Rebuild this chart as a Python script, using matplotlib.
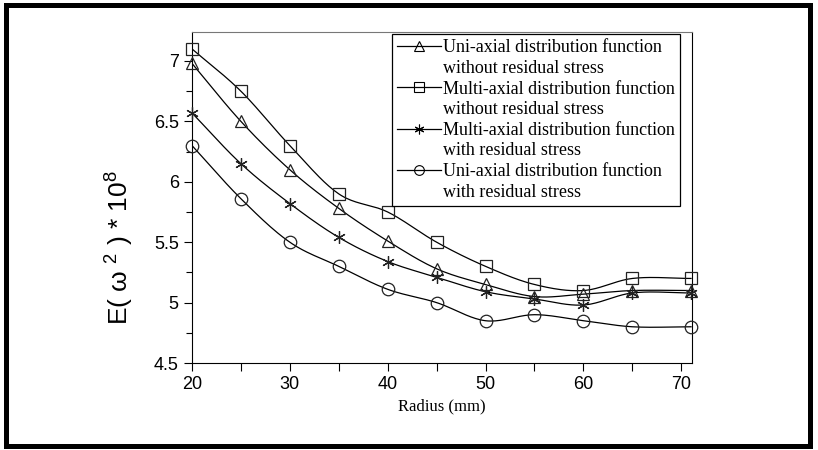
import matplotlib
matplotlib.use("Agg")
import matplotlib.pyplot as plt
import numpy as np
from matplotlib.patches import Rectangle
from matplotlib.lines import Line2D

radius = [20, 25, 30, 35, 40, 45, 50, 55, 60, 65, 71]
uni_no_stress = [6.98, 6.50, 6.10, 5.78, 5.51, 5.28, 5.15, 5.05, 5.07, 5.10, 5.10]
multi_no_stress = [7.10, 6.75, 6.30, 5.90, 5.75, 5.50, 5.30, 5.15, 5.10, 5.20, 5.20]
multi_stress = [6.57, 6.15, 5.82, 5.54, 5.34, 5.21, 5.09, 5.03, 4.98, 5.08, 5.08]
uni_stress = [6.30, 5.86, 5.50, 5.30, 5.11, 5.00, 4.85, 4.90, 4.85, 4.80, 4.80]

labels = [("Uni-axial distribution function", "without residual stress"),
          ("Multi-axial distribution function", "without residual stress"),
          ("Multi-axial distribution function", "with residual stress"),
          ("Uni-axial distribution function", "with residual stress")]

plt.rcParams['font.family'] = ['Liberation Sans', 'DejaVu Sans']
plt.rcParams['mathtext.fontset'] = 'custom'
plt.rcParams['mathtext.rm'] = 'Liberation Sans'
plt.rcParams['mathtext.it'] = 'Liberation Sans'


def smooth(x, y, n=20):
	# catmull-rom style curve through the points
	x = np.asarray(x, float)
	y = np.asarray(y, float)
	m = np.zeros_like(y)
	m[1:-1] = (y[2:] - y[:-2]) / (x[2:] - x[:-2])
	m[0] = (y[1] - y[0]) / (x[1] - x[0])
	m[-1] = (y[-1] - y[-2]) / (x[-1] - x[-2])
	xs, ys = [], []
	for i in range(len(x) - 1):
		h = x[i + 1] - x[i]
		t = np.linspace(0, 1, n, endpoint=False)
		h00 = 2 * t**3 - 3 * t**2 + 1
		h10 = t**3 - 2 * t**2 + t
		h01 = -2 * t**3 + 3 * t**2
		h11 = t**3 - t**2
		xs.extend(x[i] + t * h)
		ys.extend(h00 * y[i] + h10 * h * m[i] + h01 * y[i + 1] + h11 * h * m[i + 1])
	xs.append(x[-1])
	ys.append(y[-1])
	return xs, ys


fig = plt.figure(figsize=(8.18, 4.5), dpi=100)
fig.patches.append(Rectangle((0.0075, 0.008), 0.983, 0.98, transform=fig.transFigure,
                             fill=False, edgecolor='black', linewidth=3.6))
ax = fig.add_axes([0.2347, 0.1933, 0.6113, 0.7356])

series = [(uni_no_stress, '^'), (multi_no_stress, 's'), (multi_stress, (6, 2, 0)), (uni_stress, 'o')]
handles = []
leg_labels = []
for (vals, mk), lab in zip(series, labels):
	sx, sy = smooth(radius, vals)
	ax.plot(sx, sy, color='black', linewidth=0.9, zorder=2)
	ax.plot(radius, vals, linestyle='none', marker=mk, markersize=9, markerfacecolor='none',
	        markeredgecolor='#222222', markeredgewidth=0.9, zorder=3, clip_on=False)
	# first line of each entry carries the handle, second line sits under it
	handles.append(Line2D([], [], color='black', linewidth=0.9, marker=mk, markersize=7,
	                      markerfacecolor='none', markeredgecolor='black', markeredgewidth=0.8))
	handles.append(Line2D([], [], linestyle='none', marker=None))
	leg_labels.extend(lab)

ax.set_xlim(20, 71.1)
ax.set_ylim(4.5, 7.24)
ax.set_xticks([20, 30, 40, 50, 60, 70])
ax.set_xticks(np.arange(25, 71, 10), minor=True)
ax.set_yticks([4.5, 5, 5.5, 6, 6.5, 7])
ax.set_yticklabels(['4.5', '5', '5.5', '6', '6.5', '7'])
ax.set_yticks(np.arange(4.75, 7.2, 0.5), minor=True)
ax.tick_params(axis='both', which='major', direction='out', length=6, width=0.8, labelsize=13)
ax.tick_params(axis='both', which='minor', direction='out', length=4, width=0.8)
ax.tick_params(axis='x', which='minor', length=6)
for s in ax.spines.values():
	s.set_linewidth(0.8)
ax.spines['top'].set_color('#777777')

ax.set_xlabel('Radius (mm)', family='Liberation Serif', fontsize=12, labelpad=4)
fig.text(0.147, 0.45, r'E( ω $^{2}$ ) * 10$^{8}$', rotation=90, fontsize=19,
         ha='center', va='center')

leg = ax.legend(handles, leg_labels, loc='upper left', bbox_to_anchor=(392 / 818, 1 - 34 / 450),
                bbox_transform=fig.transFigure, prop={'family': 'Liberation Serif', 'size': 13},
                frameon=True, fancybox=False, edgecolor='black', framealpha=1,
                handlelength=2.4, handletextpad=0.1, labelspacing=0.2, borderpad=0.3,
                borderaxespad=0)
leg.get_frame().set_linewidth(0.9)

fig.savefig('out.png', dpi=100)
